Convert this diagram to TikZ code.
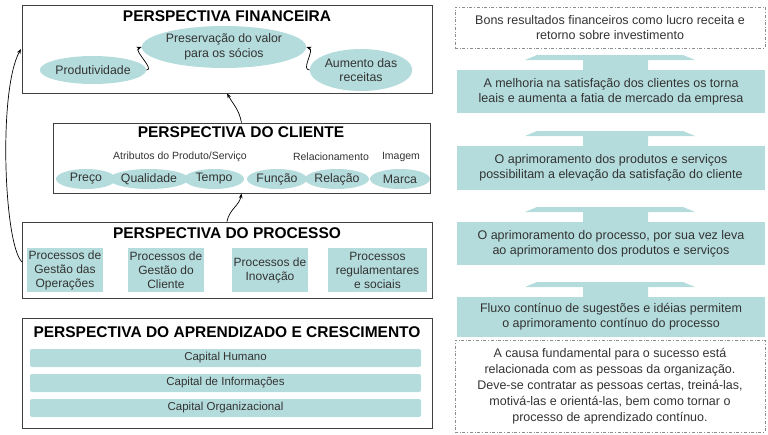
\documentclass[tikz,border=0pt]{standalone}
\usepackage{fontspec}
\setmainfont{Liberation Sans}
\usetikzlibrary{shapes.geometric,arrows.meta}
\definecolor{teal1}{HTML}{B5DCDC}
\definecolor{txt}{HTML}{333333}
\begin{document}
\begin{tikzpicture}[x=1pt,y=-1pt,font=\fontsize{12.5}{15}\selectfont,text=txt,
  persp/.style={draw=black!75,line width=0.8pt},
  ttl/.style={font=\fontsize{15.5}{17}\selectfont\bfseries,text=black},
  ell/.style={ellipse,fill=teal1,inner sep=0pt,align=center,font=\fontsize{12.3}{14.5}\selectfont},
  prc/.style={fill=teal1,minimum width=76pt,minimum height=44pt,align=center,inner sep=0pt,font=\fontsize{12}{14}\selectfont},
  bar/.style={fill=teal1,rounded corners=2pt,minimum width=391pt,minimum height=18pt,inner sep=0pt,font=\fontsize{11.5}{14}\selectfont},
  dbox/.style={draw=black!45,dash dot,align=center,inner sep=0pt},
  tbox/.style={fill=teal1,minimum width=308pt,align=center,inner sep=0pt},
  arr/.style={-{Stealth[length=5pt]},line width=0.7pt}]
\useasboundingbox (0,0) rectangle (768,434);
% left
\node[persp,minimum width=410pt,minimum height=88pt] (fin) at (227,49) {};
\node[ttl] (tfin) at (227,16) {PERSPECTIVA FINANCEIRA};
\node[ell,minimum width=88pt,minimum height=28pt] (prod) at (93,70) {Produtividade};
\node[ell,minimum width=142pt,minimum height=42pt] (pres) at (224,47) {Preservação do valor\\para os sócios};
\node[ell,minimum width=94pt,minimum height=42pt] (aum) at (361,70) {Aumento das\\receitas};
\draw[arr] (prod.east) to[out=0,in=200] (pres.west);
\draw[arr] (aum.west) to[out=180,in=-20] (pres.east);

\node[persp,minimum width=377pt,minimum height=70pt] (cli) at (241.5,158) {};
\node[ttl] (tcli) at (241,132) {PERSPECTIVA DO CLIENTE};
\node[font=\fontsize{10.5}{12}\selectfont] (l1) at (180,157) {Atributos do Produto/Serviço};
\node[font=\fontsize{10.5}{12}\selectfont] (l2) at (331,157) {Relacionamento};
\node[font=\fontsize{10.5}{12}\selectfont] (l3) at (401,157) {Imagem};
\foreach \n/\x/\t in {e1/86/Preço,e2/149/Qualidade,e3/214/Tempo,e4/277/Função,e5/337/Relação,e6/400/Marca}
  \node[ell,minimum width=60pt,minimum height=20pt] (\n) at (\x,179) {\t};
\draw[arr] (cli.north) to[out=100,in=-60] (fin.south);

\node[persp,minimum width=410pt,minimum height=76pt] (pro) at (227,260) {};
\node[ttl] (tpro) at (227,233) {PERSPECTIVA DO PROCESSO};
\node[prc] (p1) at (65,270) {Processos de\\Gestão das\\Operações};
\node[prc] (p2) at (166,270) {Processos de\\Gestão do\\Cliente};
\node[prc] (p3) at (270,270) {Processos de\\Inovação};
\node[prc,minimum width=99pt] (p4) at (377.5,270) {Processos\\regulamentares\\e sociais};
\draw[arr] (pro.north) to[out=80,in=-100] (cli.south);
\coordinate (pl) at (22,262);
\coordinate (fl) at (21,49);
\draw[arr] (pl) .. controls (4,245) and (-2,90) .. (fl);

\node[persp,minimum width=410pt,minimum height=110pt] (apr) at (227,373) {};
\node[ttl] (tapr) at (227,332) {PERSPECTIVA DO APRENDIZADO E CRESCIMENTO};
\node[bar] (b1) at (225.5,358) {Capital Humano};
\node[bar] (b2) at (225.5,383) {Capital de Informações};
\node[bar] (b3) at (225.5,408) {Capital Organizacional};

% right
\node[dbox,minimum width=310pt,minimum height=41pt] (d1) at (610,27.5) {Bons resultados financeiros como lucro receita e\\retorno sobre investimento};
\foreach \n/\yt/\yb/\t in {
 r1/70/113/{A melhoria na satisfação dos clientes os torna\\leais e aumenta a fatia de mercado da empresa},
 r2/146/190/{O aprimoramento dos produtos e serviços\\possibilitam a elevação da satisfação do cliente},
 r3/222/265/{O aprimoramento do processo, por sua vez leva\\ao aprimoramento dos produtos e serviços},
 r4/297/337/{Fluxo contínuo de sugestões e idéias permitem\\o aprimoramento contínuo do processo}}{
  \fill[teal1] (537,\yt-15) -- (683,\yt-15) -- (695,\yt-10) -- (648,\yt-10) -- (648,\yt) -- (583,\yt) -- (583,\yt-10) -- (525,\yt-10) -- cycle;
  \node[tbox,minimum height=\yb pt-\yt pt] (\n) at (611,{(\yt+\yb)/2}) {\t};
}
\node[dbox,minimum width=310pt,minimum height=92pt,font=\fontsize{12.5}{16}\selectfont] (d2) at (610,386) {A causa fundamental para o sucesso está\\relacionada com as pessoas da organização.\\Deve-se contratar as pessoas certas, treiná-las,\\motivá-las e orientá-las, bem como tornar o\\processo de aprendizado contínuo.};
\end{tikzpicture}
\end{document}
